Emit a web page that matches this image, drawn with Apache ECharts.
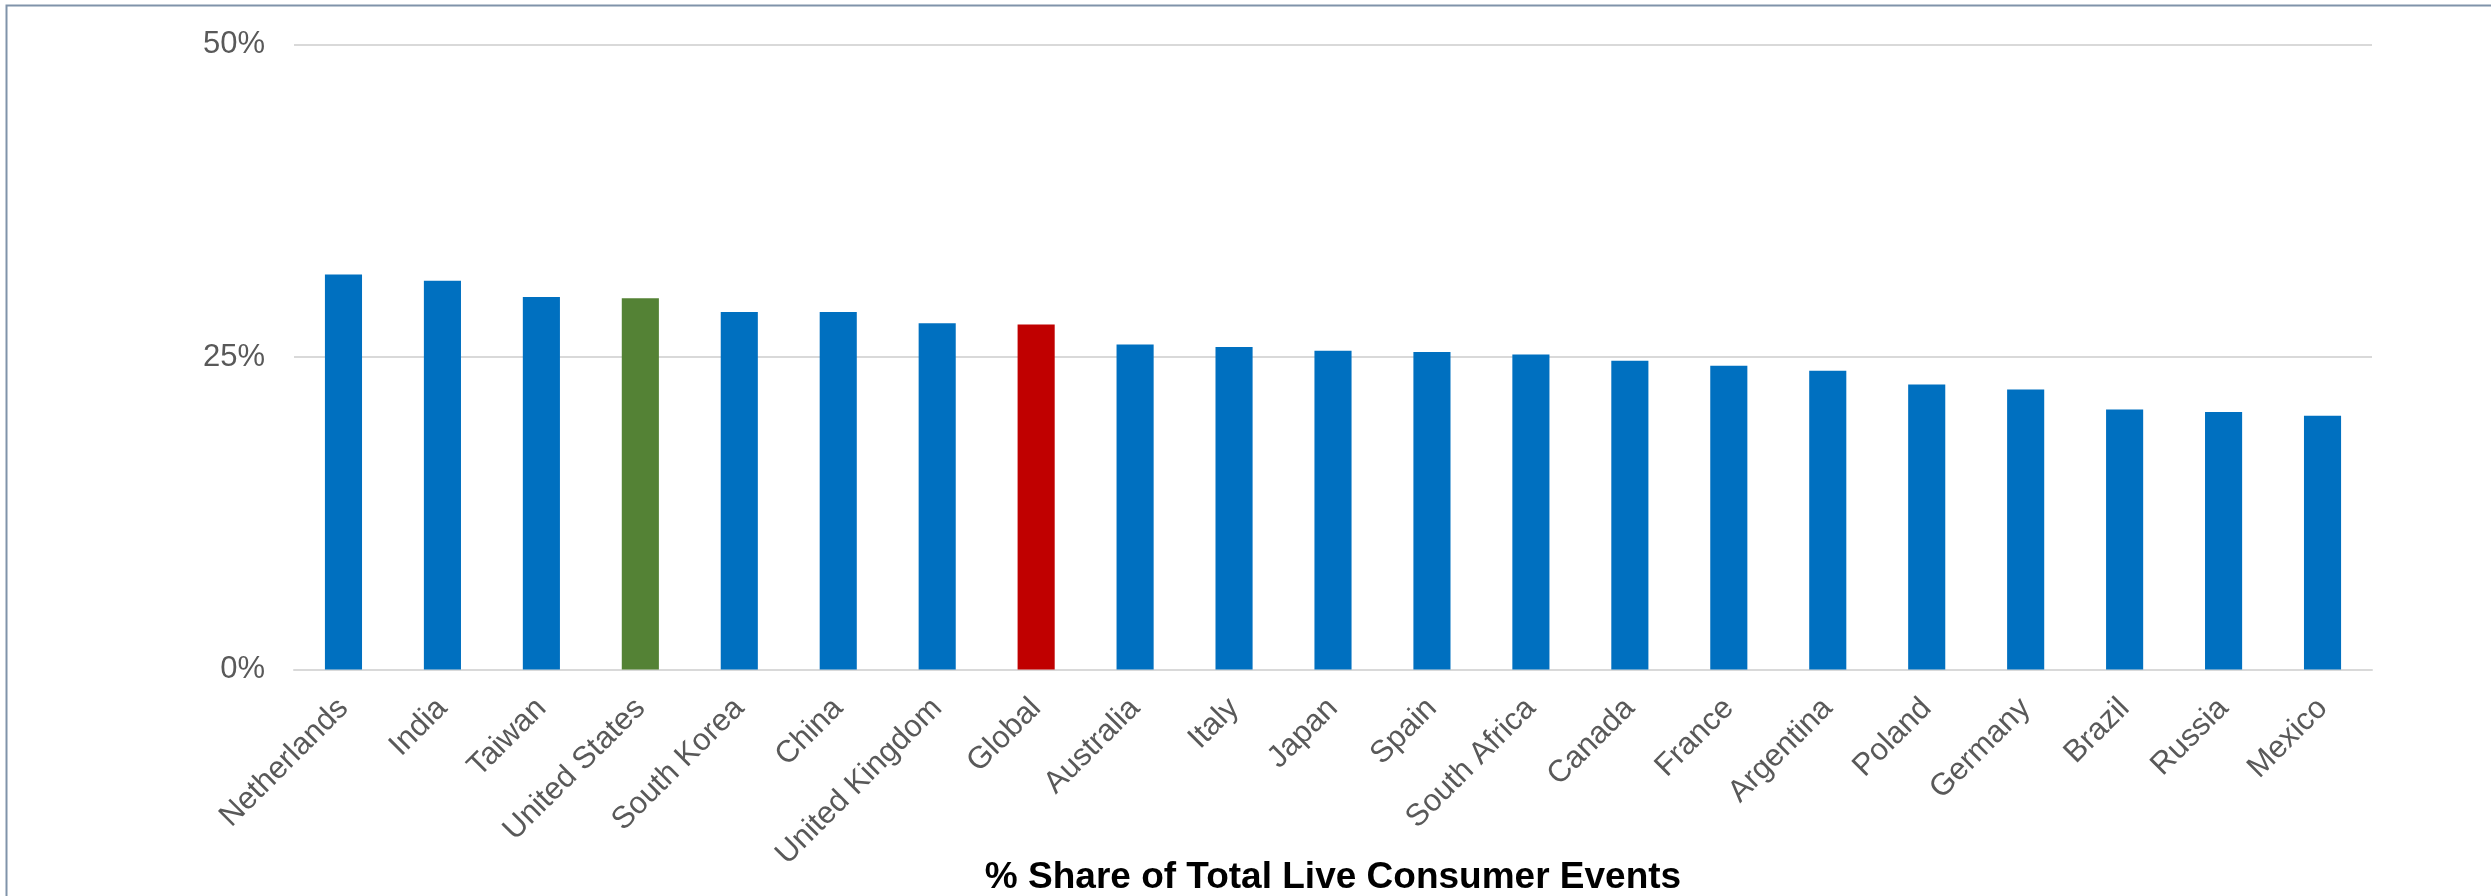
<!DOCTYPE html>
<html>
<head>
<meta charset="utf-8">
<title>% Share of Total Live Consumer Events</title>
<script src="https://cdn.jsdelivr.net/npm/echarts@6/dist/echarts.min.js"></script>
<style>
  html, body { margin: 0; padding: 0; background: #ffffff; }
  #chart { width: 2491px; height: 896px; }
</style>
</head>
<body>
<div id="chart"></div>
<script>
// Countries, sorted by share of live consumer events
const categories = [
  'Netherlands', 'India', 'Taiwan', 'United States', 'South Korea', 'China',
  'United Kingdom', 'Global', 'Australia', 'Italy', 'Japan', 'Spain',
  'South Africa', 'Canada', 'France', 'Argentina', 'Poland', 'Germany',
  'Brazil', 'Russia', 'Mexico'
];

// Share of total live consumer events, in percent
const shares = [
  31.6, 31.1, 29.8, 29.7, 28.6, 28.6,
  27.7, 27.6, 26.0, 25.8, 25.5, 25.4,
  25.2, 24.7, 24.3, 23.9, 22.8, 22.4,
  20.8, 20.6, 20.3
];

// Value axis ticks
const yTicks = [0, 25, 50];

// Bar colours: default plus highlighted entries
const baseColor = '#0070C0';
const highlightColors = {
  'United States': '#548235',
  'Global': '#C00000'
};

const font = '"Liberation Sans", Arial, Helvetica, sans-serif';

const barData = categories.map((name, i) => ({
  value: shares[i],
  itemStyle: { color: highlightColors[name] || baseColor }
}));

const chart = echarts.init(document.getElementById('chart'), null, { renderer: 'canvas' });

chart.setOption({
  backgroundColor: '#ffffff',
  animation: false,
  textStyle: { fontFamily: font },
  graphic: [{
    type: 'rect',
    silent: true,
    z: -1,
    shape: { x: 6.5, y: 5.5, width: 2600, height: 1000 },
    style: { fill: 'none', stroke: '#8093AA', lineWidth: 2 }
  }],
  grid: {
    left: 294,
    right: 119,
    top: 44.5,
    bottom: 226.5,
    containLabel: false,
    outerBoundsMode: 'none'
  },
  xAxis: {
    type: 'category',
    data: categories,
    name: '% Share of Total Live Consumer Events',
    nameLocation: 'middle',
    nameGap: 190,
    nameMoveOverlap: false,
    nameTextStyle: {
      color: '#000000',
      fontSize: 37,
      fontWeight: 'bold',
      fontFamily: font
    },
    axisLine: { show: true, lineStyle: { color: '#D9D9D9', width: 2 } },
    axisTick: { show: false },
    axisLabel: {
      interval: 0,
      rotate: 45,
      margin: 34,
      color: '#595959',
      fontSize: 31,
      fontFamily: font
    }
  },
  yAxis: {
    type: 'value',
    min: yTicks[0],
    max: yTicks[yTicks.length - 1],
    interval: yTicks[1] - yTicks[0],
    axisLine: { show: false },
    axisTick: { show: false },
    splitLine: { show: true, lineStyle: { color: '#D9D9D9', width: 2 } },
    axisLabel: {
      margin: 29,
      color: '#595959',
      fontSize: 31,
      fontFamily: font,
      formatter: v => v + '%'
    }
  },
  series: [{
    type: 'bar',
    data: barData,
    barWidth: '37.5%'
  }]
});
</script>
</body>
</html>
